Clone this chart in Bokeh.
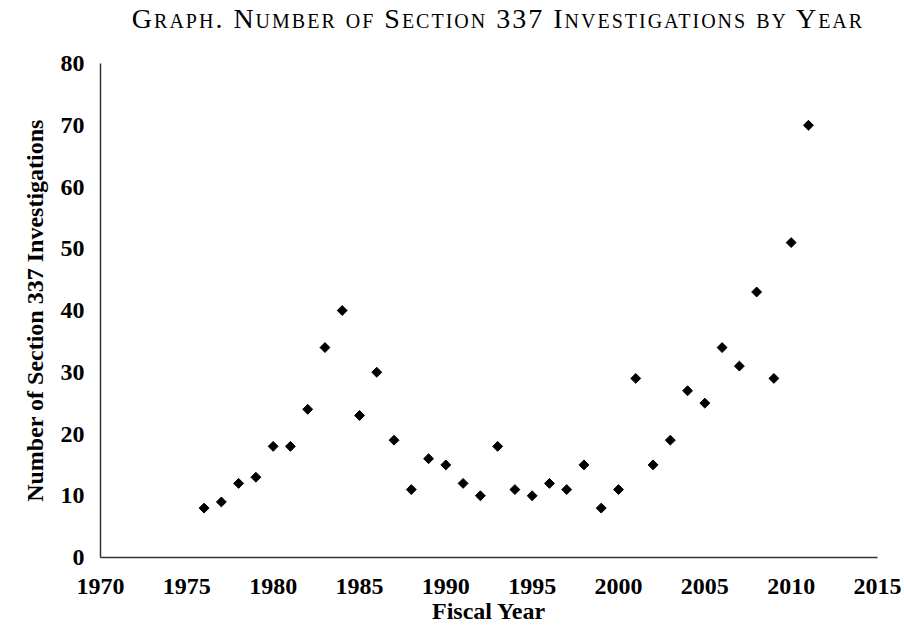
import math
from bokeh.plotting import figure
from bokeh.models import FixedTicker, Range1d, Div
from bokeh.layouts import column
from bokeh.embed import file_html
from bokeh.resources import INLINE

# ---- data ----
years = [1976, 1977, 1978, 1979, 1980, 1981, 1982, 1983, 1984, 1985,
         1986, 1987, 1988, 1989, 1990, 1991, 1992, 1993, 1994, 1995,
         1996, 1997, 1998, 1999, 2000, 2001, 2002, 2003, 2004, 2005,
         2006, 2007, 2008, 2009, 2010, 2011]
investigations = [8, 9, 12, 13, 18, 18, 24, 34, 40, 23,
                  30, 19, 11, 16, 15, 12, 10, 18, 11, 10,
                  12, 11, 15, 8, 11, 29, 15, 19, 27, 25,
                  34, 31, 43, 29, 51, 70]
x_ticks = [1970, 1975, 1980, 1985, 1990, 1995, 2000, 2005, 2010, 2015]
y_ticks = [0, 10, 20, 30, 40, 50, 60, 70, 80]
chart_title = "Graph. Number of Section 337 Investigations by Year"
x_title = "Fiscal Year"
y_title = "Number of Section 337 Investigations"

# ---- layout ----
W = 904
TITLE_H = 40
H = 632 - TITLE_H
SERIF = "Liberation Serif"

title_div = Div(
    text=chart_title, width=W, height=TITLE_H, margin=0,
    styles={"font-family": "'Liberation Serif', serif", "font-size": "28px",
            "font-variant": "small-caps", "letter-spacing": "2px",
            "line-height": "28px", "text-align": "center", "color": "black",
            "padding-top": "5px", "padding-left": "92px", "box-sizing": "border-box",
            "white-space": "nowrap"})

p = figure(width=W, height=H, output_backend="svg", toolbar_location=None,
           x_range=Range1d(1970, 2015), y_range=Range1d(0, 80),
           min_border_left=100, min_border_right=27, min_border_top=63 - TITLE_H,
           min_border_bottom=75,
           background_fill_color="white", border_fill_color="white", margin=0)
p.outline_line_color = None
p.grid.visible = False

p.scatter(years, investigations, marker="square", size=7, angle=math.pi / 4,
          fill_color="black", line_color="black")

for ax in (p.xaxis, p.yaxis):
    ax.major_tick_line_color = None
    ax.minor_tick_line_color = None
    ax.major_tick_in = 0
    ax.major_tick_out = 0
    ax.minor_tick_in = 0
    ax.minor_tick_out = 0
    ax.axis_line_color = "#333333"
    ax.axis_line_width = 1.5
    ax.major_label_text_font = SERIF
    ax.major_label_text_font_style = "bold"
    ax.major_label_text_font_size = "24px"
    ax.major_label_text_color = "black"
    ax.axis_label_text_font = SERIF
    ax.axis_label_text_font_style = "bold"
    ax.axis_label_text_font_size = "24px"
    ax.axis_label_text_color = "black"

p.xaxis.ticker = FixedTicker(ticks=x_ticks)
p.yaxis.ticker = FixedTicker(ticks=y_ticks)
p.xaxis.axis_label = x_title
p.yaxis.axis_label = y_title
p.xaxis.major_label_standoff = 21
p.xaxis.axis_label_standoff = 1
p.yaxis.major_label_standoff = 16
p.yaxis.axis_label_standoff = 10

layout = column(title_div, p, spacing=0, margin=0)
open("out.html", "w").write(file_html(layout, INLINE))
